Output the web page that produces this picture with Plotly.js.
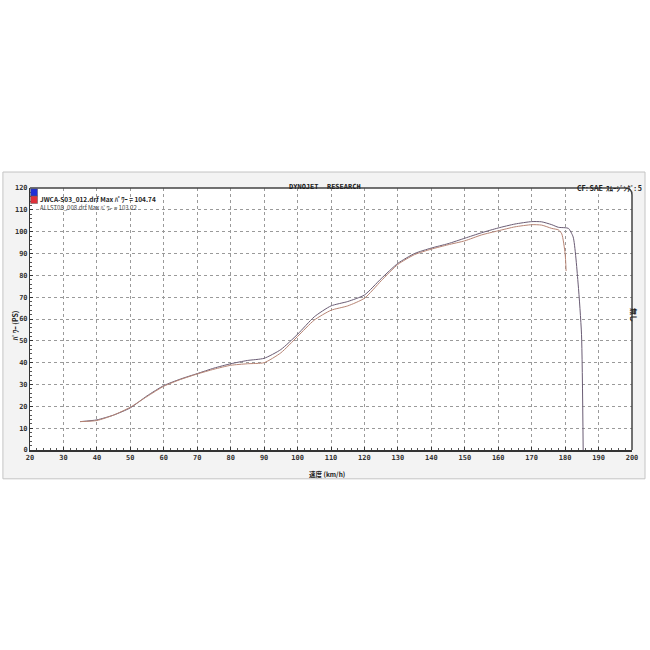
<!DOCTYPE html>
<html>
<head>
<meta charset="utf-8">
<script src="https://cdn.plot.ly/plotly-3.0.1.min.js"></script>
<style>html,body{margin:0;padding:0;background:#fff;}#chart{width:650px;height:650px;}</style>
</head>
<body>
<div id="chart"></div>
<script>
// Series A: JWCA-S03_012.drf (Max 104.74)
const speedA = [35,40,45,50,55,60,65,70,75,80,85,90,95,100,105,110,115,120,125,130,135,140,145,150,155,160,165,170,173,176,178,180,181,182.4,183.9,184.9,185.4];
const powerA = [13,13.8,16,19.3,24.8,29.5,32.5,35,37.5,39.5,41,42,46,53,61,66,68,71,78.5,85.5,90,92.5,94.5,97,99.5,101.7,103.5,104.6,104.5,103.2,102,101.8,101.5,97.6,76,53,0];
// Series B: ALLST08_008.drf (Max 103.22)
const speedB = [35,40,45,50,55,60,65,70,75,80,85,90,95,100,105,110,115,120,125,130,135,140,145,150,155,160,165,170,173,176,178,179,180,180.3];
const powerB = [13,13.5,16,19.6,24.5,29.2,32.3,34.8,37,38.8,39.5,40,44.5,52,59.5,64,66,69.5,77.5,85,89.5,92,94,95.8,98.5,100.4,102.2,103.2,103,101.5,100.8,99,90,82];

const xTicks = [20,30,40,50,60,70,80,90,100,110,120,130,140,150,160,170,180,190,200];
const yTicks = [0,10,20,30,40,50,60,70,80,90,100,110,120];
const nameA = "JWCA-S03_012.drf Max ﾊﾟﾜｰ = 104.74";
const nameB = "ALLST08_008.drf Max ﾊﾟﾜｰ = 103.22";

const tickFont = {family: "DejaVu Sans Mono", size: 7, color: "#333", weight: "bold"};

const traces = [
  {x: speedA, y: powerA, mode: "lines", line: {color: "#6a5c74", width: 1, shape: "spline", smoothing: 0.6}, name: nameA, showlegend: false, hoverinfo: "skip"},
  {x: speedB, y: powerB, mode: "lines", line: {color: "#b78474", width: 1, shape: "spline", smoothing: 0.6}, name: nameB, showlegend: false, hoverinfo: "skip"}
];

const rx = 7/602, ry = 7/262;
const layout = {
  width: 650, height: 650,
  margin: {l: 30, r: 18, t: 188, b: 200},
  paper_bgcolor: "#ffffff",
  plot_bgcolor: "rgba(0,0,0,0)",
  showlegend: false,
  xaxis: {
    range: [20, 200], tickmode: "array", tickvals: xTicks, ticktext: xTicks.map(String),
    tickfont: tickFont, ticks: "inside", ticklen: 3, tickcolor: "#333",
    showgrid: true, gridcolor: "#9a9a9a", griddash: "dot", gridwidth: 1,
    showline: true, linecolor: "#333", linewidth: 1.5, zeroline: false,
    minor: {dtick: 2, ticks: "inside", ticklen: 2, tickcolor: "#555", showgrid: false},
    fixedrange: true
  },
  yaxis: {
    range: [0, 120], tickmode: "array", tickvals: yTicks, ticktext: yTicks.map(String),
    tickfont: tickFont, ticks: "inside", ticklen: 3, tickcolor: "#333",
    showgrid: true, gridcolor: "#9a9a9a", griddash: "dot", gridwidth: 1,
    showline: true, linecolor: "#333", linewidth: 1, zeroline: false,
    minor: {dtick: 2, ticks: "inside", ticklen: 2, tickcolor: "#555", showgrid: false},
    fixedrange: true
  },
  shapes: [
    {type: "rect", xref: "paper", yref: "paper", x0: -0.045, x1: 1.0216, y0: -0.11, y1: 1.061,
     fillcolor: "#f3f3f3", line: {color: "#c4c4c4", width: 1}, layer: "below"},
    {type: "rect", xref: "paper", yref: "paper", x0: 0, x1: 1, y0: 0, y1: 1,
     fillcolor: "#ffffff", line: {width: 0}, layer: "below"},
    {type: "path", xref: "paper", yref: "paper",
     path: "M 0,1 L " + (1-rx) + ",1 Q 1,1 1," + (1-ry) + " L 1,0",
     line: {color: "#444", width: 1.5}, layer: "above"},
    {type: "rect", xref: "paper", yref: "paper", x0: 0.001, x1: 0.0125, y0: 0.969, y1: 0.997,
     fillcolor: "#1f2fd6", line: {color: "#555", width: 0.5}},
    {type: "rect", xref: "paper", yref: "paper", x0: 0.001, x1: 0.0125, y0: 0.941, y1: 0.969,
     fillcolor: "#e0303a", line: {color: "#555", width: 0.5}}
  ],
  annotations: [
    {text: "DYNOJET  RESEARCH", xref: "paper", yref: "paper", x: 0.49, y: 1.027, showarrow: false,
     font: {family: "DejaVu Sans Mono", size: 7, color: "#222", weight: "bold"}},
    {text: "CF: SAE  ｽﾑｰｼﾞﾝｸﾞ: 5", xref: "paper", yref: "paper", x: 1.02, y: 1.027, xanchor: "right", showarrow: false,
     font: {family: "Noto Sans CJK JP", size: 7, color: "#222", weight: "bold"}},
    {text: nameA, xref: "paper", yref: "paper", x: 0.014, y: 0.986, xanchor: "left", showarrow: false,
     font: {family: "Noto Sans CJK JP", size: 6.5, color: "#222", weight: "bold"}},
    {text: nameB, xref: "paper", yref: "paper", x: 0.014, y: 0.950, xanchor: "left", showarrow: false,
     font: {family: "Noto Sans CJK JP", size: 6, color: "#444"}},
    {text: "速度 (km/h)", xref: "paper", yref: "paper", x: 0.493, y: -0.068, yanchor: "top", borderpad: 0, showarrow: false,
     font: {family: "Noto Sans CJK JP", size: 6.5, color: "#222", weight: "bold"}},
    {text: "ﾊﾟﾜｰ (PS)", xref: "paper", yref: "paper", x: -0.036, y: 0.477, textangle: -90, showarrow: false,
     font: {family: "Noto Sans CJK JP", size: 7, color: "#222", weight: "bold"}},
    {text: "無し", xref: "paper", yref: "paper", x: 1.015, y: 0.515, textangle: 90, showarrow: false,
     font: {family: "Noto Sans CJK JP", size: 7, color: "#222", weight: "bold"}}
  ]
};

Plotly.newPlot("chart", traces, layout, {staticPlot: true, displayModeBar: false});
</script>
</body>
</html>
